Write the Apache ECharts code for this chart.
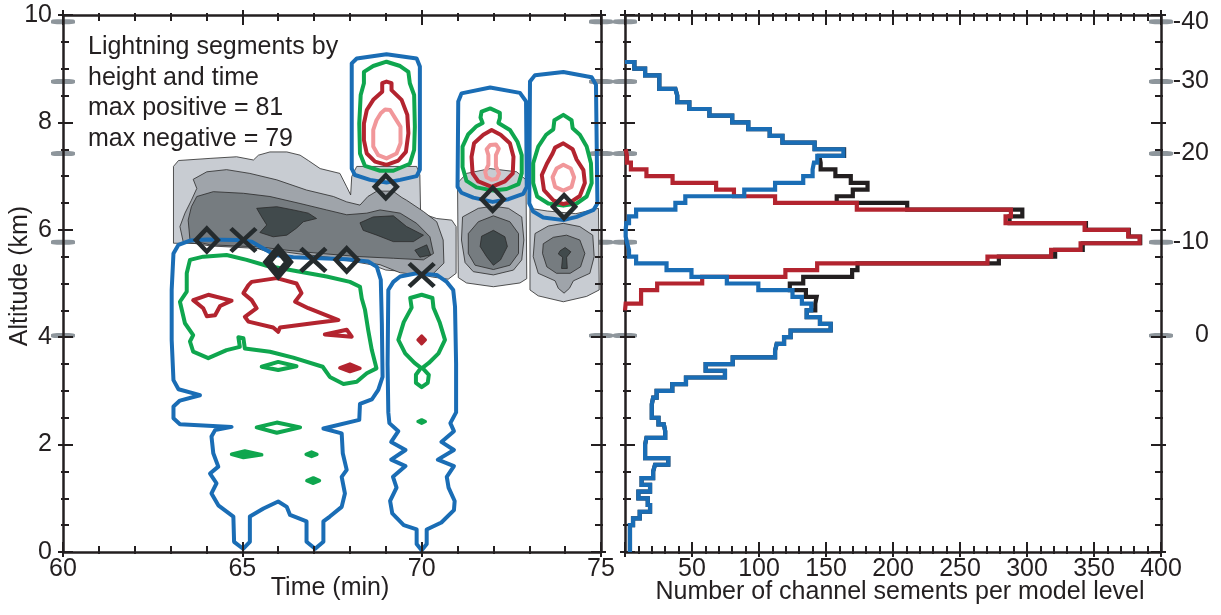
<!DOCTYPE html>
<html><head><meta charset="utf-8">
<script src="https://cdn.jsdelivr.net/npm/echarts@6/dist/echarts.min.js"></script>
<style>html,body{margin:0;padding:0;background:#fff}#c{width:1221px;height:615px}</style>
</head><body><div id="c"></div>
<script>
// ---------------- DATA ----------------
// Left panel: contour polygons, [time (min), altitude (km)]
const grayLevel1 = [
  [[63.08,7.18],[63.22,7.29],[64.10,7.33],[64.84,7.36],[65.31,7.30],[65.45,7.39],[65.77,7.45],[66.24,7.45],[66.61,7.39],[66.84,7.29],[67.17,7.14],[67.72,7.05],[67.91,6.80],[68.02,6.65],[68.05,6.99],[68.19,7.18],[69.86,7.18],[69.95,7.02],[69.97,6.31],[70.42,6.21],[70.84,6.18],[70.96,6.06],[70.96,5.19],[70.74,5.08],[70.3,5.12],[69.6,5.22],[69.0,5.25],[68.6,5.35],[68.0,5.42],[67.0,5.47],[66.0,5.52],[65.3,5.68],[64.5,5.74],[63.08,5.75]],
  [[71.25,7.05],[71.91,7.14],[72.65,7.08],[72.91,6.93],[72.93,5.09],[72.74,5.01],[72.0,4.94],[71.25,5.01],[71.02,5.11],[71.0,6.87]],
  [[73.02,6.40],[73.5,6.35],[74.3,6.30],[74.93,6.40],[74.95,4.88],[74.60,4.76],[73.95,4.66],[73.25,4.77],[73.02,4.88]]
];
const grayLevel2 = [
  [[63.63,6.94],[64.01,7.08],[64.56,7.12],[65.21,7.05],[65.96,6.93],[66.79,6.74],[67.54,6.62],[67.91,6.52],[68.28,6.46],[68.5,6.62],[68.75,6.72],[69.2,6.72],[69.45,6.60],[69.58,6.55],[70.05,6.34],[70.42,6.15],[70.60,5.81],[70.62,5.38],[70.33,5.19],[69.95,5.16],[69.4,5.20],[68.84,5.35],[67.91,5.45],[66.61,5.55],[65.49,5.65],[64.10,5.70],[63.35,5.78],[63.26,6.06],[63.40,6.31],[63.58,6.55],[63.73,6.77]],
  [[71.14,6.24],[71.58,6.40],[72.0,6.44],[72.42,6.40],[72.79,6.24],[72.85,5.81],[72.79,5.44],[72.56,5.25],[72.0,5.16],[71.44,5.22],[71.21,5.39],[71.11,5.81]],
  [[73.16,5.93],[73.53,6.07],[73.95,6.12],[74.41,6.06],[74.77,5.90],[74.81,5.50],[74.69,5.19],[74.23,5.05],[74.12,4.91],[73.97,4.82],[73.81,4.91],[73.72,5.05],[73.25,5.19],[73.11,5.50]]
];
const grayLevel3 = [
  [[63.73,6.62],[64.19,6.71],[65.03,6.68],[65.77,6.62],[66.61,6.49],[67.35,6.37],[67.91,6.28],[68.47,6.31],[68.84,6.37],[69.40,6.31],[69.86,6.12],[70.23,5.87],[70.33,5.56],[70.05,5.44],[69.21,5.47],[68.28,5.50],[67.17,5.56],[66.24,5.62],[65.49,5.68],[64.10,5.72],[63.54,5.81],[63.49,6.18],[63.58,6.43]],
  [[71.58,6.15],[72.0,6.26],[72.46,6.15],[72.70,5.93],[72.70,5.56],[72.46,5.34],[72.0,5.26],[71.49,5.34],[71.30,5.56],[71.30,5.93]],
  [[73.39,5.74],[73.67,5.86],[74.04,5.90],[74.41,5.81],[74.55,5.56],[74.43,5.31],[74.14,5.19],[73.76,5.19],[73.49,5.31],[73.37,5.56]]
];
const grayLevel4 = [
  [[65.40,6.40],[65.96,6.43],[66.42,6.37],[66.84,6.31],[67.07,6.21],[66.70,6.15],[66.51,6.03],[66.24,5.90],[65.86,5.87],[65.49,5.95],[65.68,6.09],[65.54,6.24]],
  [[68.28,6.13],[68.65,6.24],[69.21,6.26],[69.58,6.06],[70.05,5.90],[69.77,5.78],[69.21,5.78],[68.75,5.90],[68.37,5.99]],
  [[69.81,5.62],[70.14,5.72],[70.25,5.53],[69.95,5.49]],
  [[71.67,5.88],[72.0,5.99],[72.32,5.87],[72.39,5.69],[72.2,5.44],[72.0,5.34],[71.81,5.50],[71.63,5.69]],
  [[73.86,5.61],[74.0,5.67],[74.16,5.59],[74.04,5.49],[74.06,5.28],[73.90,5.28],[73.93,5.49],[73.81,5.55]]
];
const blueContours = [
  [[68.05,9.10],[68.19,9.19],[69.02,9.27],[69.86,9.19],[69.95,9.04],[69.95,7.12],[69.86,7.00],[69.40,6.93],[69.02,6.88],[68.56,6.93],[68.14,7.02],[68.05,7.14]],
  [[71.02,8.39],[71.11,8.54],[71.91,8.65],[72.74,8.55],[72.91,8.39],[72.93,6.80],[72.83,6.67],[72.42,6.57],[71.98,6.52],[71.44,6.60],[71.11,6.69],[71.00,6.80]],
  [[73.02,8.76],[73.16,8.88],[73.95,8.94],[74.74,8.84],[74.86,8.70],[74.90,6.49],[74.79,6.37],[74.32,6.24],[73.95,6.18],[73.39,6.23],[73.11,6.34],[73.0,6.49]],
  [[63.08,5.56],[63.22,5.72],[63.54,5.80],[64.01,5.82],[64.84,5.81],[65.26,5.78],[65.59,5.65],[65.91,5.53],[66.42,5.49],[67.91,5.45],[68.51,5.41],[68.75,5.31],[68.86,5.07],[68.89,4.26],[68.91,3.26],[68.79,3.02],[68.61,2.84],[68.28,2.76],[68.26,2.46],[67.26,2.30],[67.77,2.21],[67.80,1.84],[67.91,1.53],[67.77,1.40],[67.86,1.09],[67.77,0.84],[67.44,0.66],[67.26,0.57],[67.26,0.19],[67.03,0.06],[66.79,0.19],[66.79,0.57],[66.33,0.69],[66.24,0.84],[66.0,0.94],[65.59,0.81],[65.21,0.66],[65.21,0.19],[65.02,0.06],[64.77,0.19],[64.75,0.66],[64.33,0.87],[64.14,1.09],[64.28,1.28],[64.10,1.46],[64.33,1.59],[64.19,1.84],[64.14,2.15],[64.24,2.27],[64.70,2.33],[63.26,2.38],[63.08,2.49],[63.08,2.71],[63.26,2.82],[63.82,2.92],[63.22,3.03],[63.08,3.20],[63.03,3.95],[63.03,4.88]],
  [[69.07,4.88],[69.21,5.03],[69.40,5.13],[69.86,5.19],[70.42,5.16],[70.70,5.03],[70.88,4.88],[70.93,4.57],[70.96,3.5],[70.96,2.6],[70.80,2.4],[70.90,2.25],[70.55,2.05],[70.90,1.90],[70.45,1.72],[70.90,1.60],[70.70,1.40],[70.75,1.20],[70.92,0.95],[70.90,0.78],[70.55,0.55],[70.14,0.42],[70.14,0.15],[70.0,0.03],[69.86,0.15],[69.86,0.42],[69.50,0.50],[69.18,0.72],[69.12,0.95],[69.30,1.20],[69.20,1.40],[69.55,1.60],[69.15,1.72],[69.55,1.90],[69.15,2.05],[69.35,2.25],[69.10,2.40],[69.07,2.6],[69.05,3.5]]
];
const greenContours = [
  [[69.02,9.13],[69.40,9.05],[69.63,8.94],[69.67,8.73],[69.79,8.51],[69.81,7.92],[69.79,7.49],[69.67,7.23],[69.21,7.10],[68.84,7.10],[68.42,7.19],[68.28,7.42],[68.26,7.98],[68.30,8.51],[68.39,8.73],[68.39,8.94],[68.65,9.05]],
  [[71.67,8.20],[71.91,8.26],[72.18,8.18],[72.18,8.08],[72.14,7.99],[72.46,7.86],[72.67,7.64],[72.79,7.39],[72.79,7.05],[72.70,6.85],[72.37,6.76],[72.0,6.73],[71.53,6.79],[71.25,6.91],[71.14,7.17],[71.14,7.55],[71.30,7.78],[71.53,7.93],[71.70,7.99],[71.64,8.09]],
  [[73.95,8.14],[74.18,8.04],[74.21,7.89],[74.41,7.77],[74.60,7.55],[74.72,7.24],[74.74,6.87],[74.60,6.62],[74.32,6.49],[73.95,6.45],[73.53,6.49],[73.22,6.62],[73.11,6.87],[73.11,7.24],[73.25,7.55],[73.47,7.77],[73.67,7.87],[73.70,8.04]],
  [[63.54,5.44],[63.91,5.50],[64.56,5.53],[65.12,5.44],[65.68,5.33],[66.61,5.22],[67.35,5.13],[68.0,5.03],[68.28,4.94],[68.33,4.72],[68.42,4.51],[68.51,4.13],[68.61,3.76],[68.74,3.42],[68.47,3.33],[68.19,3.17],[67.82,3.13],[67.44,3.26],[67.24,3.45],[66.42,3.62],[65.77,3.73],[65.07,3.79],[65.03,3.98],[64.89,4.0],[64.93,3.82],[64.56,3.76],[64.05,3.61],[63.63,3.73],[63.54,3.92],[63.63,4.04],[63.40,4.26],[63.26,4.66],[63.45,4.85],[63.45,5.19]],
  [[70.0,4.79],[70.3,4.73],[70.33,4.55],[70.5,4.28],[70.65,3.95],[70.47,3.70],[70.2,3.52],[70.02,3.43],[70.2,3.30],[70.17,3.15],[70.0,3.07],[69.84,3.15],[69.84,3.30],[69.98,3.43],[69.8,3.52],[69.54,3.70],[69.35,3.95],[69.5,4.28],[69.72,4.55],[69.68,4.73]],
  [[65.54,3.45],[66.0,3.54],[66.51,3.46],[66.0,3.39]],
  [[65.40,2.32],[65.96,2.41],[66.61,2.32],[65.96,2.22]]
];
const greenSpots = [
  [[64.70,1.82],[65.07,1.88],[65.54,1.81],[65.03,1.76]],
  [[66.78,1.82],[66.93,1.86],[67.08,1.82],[66.93,1.78]],
  [[66.80,1.33],[66.98,1.38],[67.15,1.33],[66.98,1.28]],
  [[69.90,2.43],[70.0,2.46],[70.10,2.43],[70.0,2.40]]
];
const redContours = [
  [[69.02,8.76],[69.16,8.73],[69.16,8.60],[69.44,8.42],[69.60,8.14],[69.63,7.80],[69.56,7.45],[69.35,7.29],[69.02,7.21],[68.70,7.27],[68.47,7.42],[68.39,7.67],[68.39,7.98],[68.47,8.23],[68.65,8.42],[68.90,8.57],[68.90,8.73]],
  [[71.95,7.86],[72.2,7.77],[72.46,7.61],[72.56,7.36],[72.54,7.05],[72.32,6.90],[71.95,6.80],[71.58,6.90],[71.42,7.05],[71.39,7.36],[71.46,7.61],[71.72,7.77]],
  [[73.95,7.61],[74.21,7.50],[74.32,7.31],[74.51,7.11],[74.55,6.87],[74.41,6.63],[74.14,6.51],[73.95,6.48],[73.67,6.55],[73.41,6.74],[73.35,7.02],[73.49,7.23],[73.65,7.42],[73.72,7.53]],
  [[65.26,5.03],[65.96,5.10],[66.51,5.00],[66.65,4.82],[66.47,4.66],[66.84,4.54],[67.68,4.32],[67.07,4.27],[66.05,4.18],[66.0,4.10],[65.86,4.18],[65.17,4.29],[65.07,4.38],[65.40,4.54],[65.26,4.69],[65.03,4.82],[65.17,4.97]],
  [[63.63,4.69],[64.05,4.79],[64.70,4.68],[64.38,4.58],[64.24,4.41],[64.01,4.39],[63.91,4.54]],
  [[67.30,4.05],[67.91,4.14],[68.05,4.01]]
];
const redSpots = [
  [[67.72,3.43],[68.0,3.50],[68.28,3.42],[68.0,3.36]],
  [[69.90,3.95],[70.0,4.02],[70.10,3.95],[70.0,3.88]]
];
const pinkContours = [
  [[68.98,8.24],[69.12,8.23],[69.26,8.08],[69.41,7.92],[69.41,7.61],[69.30,7.42],[69.02,7.33],[68.79,7.39],[68.65,7.55],[68.65,7.86],[68.74,8.04],[68.86,8.17]],
  [[71.91,7.58],[72.07,7.59],[72.15,7.51],[72.07,7.39],[72.07,7.18],[72.16,7.05],[72.09,6.95],[71.95,6.93],[71.81,6.98],[71.77,7.08],[71.86,7.21],[71.86,7.39],[71.81,7.50]],
  [[73.95,7.21],[74.16,7.14],[74.25,6.98],[74.18,6.80],[73.95,6.73],[73.72,6.80],[73.65,6.98],[73.76,7.14]]
];
const diamondMarks = [[64.01,5.81],[67.91,5.44],[69.00,6.80],[71.98,6.57],[73.97,6.43]];
const boldDiamondMarks = [[66.0,5.40]];
const crossMarks = [[65.03,5.81],[66.98,5.44],[70.0,5.16]];
const annotation = ['Lightning segments by','height and time','max positive = 81','max negative = 79'];

// Right panel: channel segments per model level (bins of levelStep km from 0 km)
const levelStep = 0.125;
const blueCounts = [3.7,3.7,3.7,3.7,6,11,18.7,17,10,18.7,12.4,21,22.4,32.3,15,15,16,30,29,25,20,20,21,23.6,35.3,45.5,74.6,60.2,80.4,112,113.2,118.7,123.6,153.5,145.5,135.6,139,132,125,99.5,76,49.6,31,8.3,3,1.6,0.5,0.5,1,3,8.3,37.6,45,89,112,133,140,141,143.5,163,141.5,117.5,108,92,80,63,48,39,37.6,25.6,25.6,15,7];
const redStartLevel = 36;
const redCounts = [0.5,12,12,24,57.6,119.7,143.4,270.5,318,340,384,375.5,343,284,288,173,112,81.3,68,35.5,16,4.4,1.5,0.5];
const blackCounts = [3.7,3.7,3.7,3.7,6,11,18.7,17,10,18.7,12.4,21,22.4,32.3,15,15,16,30,29,25,20,20,21,23.6,35.3,45.5,74.6,60.2,80.4,112,113.2,118.7,123.6,153.5,145.5,135.6,142,143,135,123,133,169.5,173.5,279,321,341.6,384.5,376,344,287,296.5,210.6,158,170,181,168.5,157,146,145,163.5,141.5,117.5,108,92,80,63,48,39,37.6,25.6,25.6,15,7];

// Temperature levels on the right axis
const tempHeights = [9.875, 8.76, 7.42, 5.77, 4.03];
const tempLabels = ['-40','-30','-20','-10','0'];

// ---------------- CHART ----------------
const FONT = 'Liberation Sans, Arial, Helvetica, sans-serif';
const AX = '#231f20';
const BLUE = '#1a6db5', GREEN = '#0fa64e', RED = '#b3242f', PINK = '#f1979a';
const MARK = '#252b2d';

function polySeries(polys, style, z) {
  return {
    type: 'custom', xAxisIndex: 0, yAxisIndex: 0, silent: true, z: z,
    data: polys.map((p, i) => [p[0][0], p[0][1], i]),
    renderItem: function (params, api) {
      const poly = polys[api.value(2)];
      return { type: 'polygon', shape: { points: poly.map(pt => api.coord(pt)) }, style: Object.assign({}, style) };
    }
  };
}
function stepLine(counts, startLevel, closeBottom) {
  const pts = [];
  if (closeBottom) pts.push([0, startLevel * levelStep]);
  counts.forEach((v, i) => {
    const lo = (startLevel + i) * levelStep;
    pts.push([v, lo], [v, lo + levelStep]);
  });
  pts.push([0, (startLevel + counts.length) * levelStep]);
  return pts;
}
function ax(o) {
  return {
    type: 'value', gridIndex: o.g, position: o.pos, min: o.min, max: o.max, interval: o.int, offset: 0,
    axisLine: { show: o.line, onZero: false, lineStyle: { color: AX, width: 2.5 } },
    axisTick: { show: true, inside: o.inside, length: o.inside ? 10 : 5, lineStyle: { color: AX, width: 2 } },
    minorTick: { show: true, splitNumber: o.minor, length: o.inside ? 6 : 2, lineStyle: { color: AX, width: 2 } },
    splitLine: { show: false }, minorSplitLine: { show: false },
    axisLabel: o.label || { show: false }, z: 3
  };
}
const labelStyle = { color: AX, fontSize: 25, fontFamily: FONT };

const xAxes = [
  ax({ g: 0, pos: 'bottom', min: 60, max: 75, int: 5, minor: 5, inside: true, line: true,
       label: Object.assign({ show: true, margin: 5 }, labelStyle) }),
  ax({ g: 0, pos: 'bottom', min: 60, max: 75, int: 5, minor: 5, inside: false, line: false }),
  ax({ g: 0, pos: 'top', min: 60, max: 75, int: 5, minor: 5, inside: true, line: true }),
  ax({ g: 0, pos: 'top', min: 60, max: 75, int: 5, minor: 5, inside: false, line: false }),
  ax({ g: 1, pos: 'bottom', min: 0, max: 400, int: 50, minor: 5, inside: true, line: true,
       label: Object.assign({ show: true, margin: 5, formatter: v => (v === 0 ? '' : String(v)) }, labelStyle) }),
  ax({ g: 1, pos: 'bottom', min: 0, max: 400, int: 50, minor: 5, inside: false, line: false }),
  ax({ g: 1, pos: 'top', min: 0, max: 400, int: 50, minor: 5, inside: true, line: true }),
  ax({ g: 1, pos: 'top', min: 0, max: 400, int: 50, minor: 5, inside: false, line: false })
];
const yAxes = [
  ax({ g: 0, pos: 'left', min: 0, max: 10, int: 2, minor: 4, inside: true, line: true,
       label: Object.assign({ show: true, margin: 11 }, labelStyle) }),
  ax({ g: 0, pos: 'left', min: 0, max: 10, int: 2, minor: 4, inside: false, line: false }),
  ax({ g: 0, pos: 'right', min: 0, max: 10, int: 2, minor: 4, inside: true, line: true }),
  ax({ g: 0, pos: 'right', min: 0, max: 10, int: 2, minor: 4, inside: false, line: false }),
  ax({ g: 1, pos: 'left', min: 0, max: 10, int: 2, minor: 4, inside: true, line: true }),
  ax({ g: 1, pos: 'left', min: 0, max: 10, int: 2, minor: 4, inside: false, line: false }),
  ax({ g: 1, pos: 'right', min: 0, max: 10, int: 2, minor: 4, inside: true, line: true }),
  ax({ g: 1, pos: 'right', min: 0, max: 10, int: 2, minor: 4, inside: false, line: false }),
  {
    type: 'value', gridIndex: 1, position: 'right', min: 0, max: 10, offset: 0,
    axisLine: { show: false, onZero: false }, axisTick: { show: false }, splitLine: { show: false },
    axisLabel: Object.assign({
      show: true, align: 'right', margin: 48, customValues: tempHeights,
      formatter: function (v) {
        let best = 0;
        tempHeights.forEach((h, i) => { if (Math.abs(h - v) < Math.abs(tempHeights[best] - v)) best = i; });
        return tempLabels[best];
      }
    }, labelStyle)
  }
];

const dashStyle = { color: '#8e969c', opacity: 1 };
function dashSeries(xi, yi, xv) {
  return {
    type: 'scatter', xAxisIndex: xi, yAxisIndex: yi, symbol: 'roundRect', symbolSize: [24, 5],
    clip: false, silent: true, z: -1, itemStyle: dashStyle,
    data: tempHeights.map(h => [xv, h])
  };
}
function histSeries(pts, color, z) {
  return {
    type: 'line', xAxisIndex: 4, yAxisIndex: 4, data: pts, showSymbol: false, symbol: 'none',
    clip: false, silent: true, z: z,
    lineStyle: { color: color, width: 4.2, join: 'miter', cap: 'butt' }
  };
}

const series = [
  dashSeries(0, 0, 60), dashSeries(0, 0, 75), dashSeries(4, 4, 0), dashSeries(4, 4, 400),
  polySeries(grayLevel1, { fill: '#c8ccd2', stroke: '#2a2a2a', lineWidth: 0.8 }, 2),
  polySeries(grayLevel2, { fill: '#9fa4aa', stroke: '#2a2a2a', lineWidth: 0.8 }, 2),
  polySeries(grayLevel3, { fill: '#767c80', stroke: '#2a2a2a', lineWidth: 0.8 }, 2),
  polySeries(grayLevel4, { fill: '#414a4c', stroke: '#2a2a2a', lineWidth: 0.8 }, 2),
  polySeries(blueContours, { fill: 'none', stroke: BLUE, lineWidth: 4, lineJoin: 'round' }, 3),
  polySeries(greenContours, { fill: 'none', stroke: GREEN, lineWidth: 4, lineJoin: 'round' }, 3),
  polySeries(greenSpots, { fill: GREEN, stroke: GREEN, lineWidth: 3.5, lineJoin: 'round' }, 3),
  polySeries(redContours, { fill: 'none', stroke: RED, lineWidth: 4, lineJoin: 'round' }, 3),
  polySeries(redSpots, { fill: RED, stroke: RED, lineWidth: 3.5, lineJoin: 'round' }, 3),
  polySeries(pinkContours, { fill: 'none', stroke: PINK, lineWidth: 4, lineJoin: 'round' }, 3),
  {
    type: 'scatter', xAxisIndex: 0, yAxisIndex: 0, symbol: 'diamond', symbolSize: [22, 23], z: 5, silent: true,
    itemStyle: { color: 'rgba(0,0,0,0)', borderColor: MARK, borderWidth: 4.5, opacity: 1 }, data: diamondMarks
  },
  {
    type: 'scatter', xAxisIndex: 0, yAxisIndex: 0, symbol: 'diamond', symbolSize: [21, 25], z: 5, silent: true,
    itemStyle: { color: 'rgba(0,0,0,0)', borderColor: MARK, borderWidth: 8, opacity: 1 }, data: boldDiamondMarks
  },
  {
    type: 'scatter', xAxisIndex: 0, yAxisIndex: 0, symbol: 'path://M0,0L20,20M20,0L0,20', symbolSize: [25, 23], z: 5, silent: true,
    itemStyle: { color: 'rgba(0,0,0,0)', borderColor: MARK, borderWidth: 4.5, opacity: 1 }, data: crossMarks
  },
  histSeries(stepLine(blackCounts, 0, false), '#231f20', 3),
  histSeries(stepLine(redCounts, redStartLevel, true), RED, 4),
  histSeries(stepLine(blueCounts, 0, false), BLUE, 5)
];

const option = {
  animation: false,
  backgroundColor: '#ffffff',
  grid: [
    { left: 63, top: 15, width: 538, height: 537 },
    { left: 625, top: 15, width: 536, height: 537 }
  ],
  xAxis: xAxes,
  yAxis: yAxes,
  series: series,
  graphic: [
    { type: 'text', left: 88, top: 32, z: 10, style: { text: annotation.join('\n'), fill: AX, font: '25px ' + FONT, lineHeight: 30.5 } },
    { type: 'text', x: 20, y: 276, rotation: Math.PI / 2, z: 10, style: { text: 'Altitude (km)', fill: AX, font: '25px ' + FONT, align: 'center', verticalAlign: 'middle' } },
    { type: 'text', x: 330, y: 588, z: 10, style: { text: 'Time (min)', fill: AX, font: '25px ' + FONT, align: 'center', verticalAlign: 'middle' } },
    { type: 'text', x: 900, y: 592, z: 10, style: { text: 'Number of channel sements per model level', fill: AX, font: '25px ' + FONT, align: 'center', verticalAlign: 'middle' } }
  ]
};
const chart = echarts.init(document.getElementById('c'), null, { renderer: 'canvas' });
chart.setOption(option);
</script></body></html>
